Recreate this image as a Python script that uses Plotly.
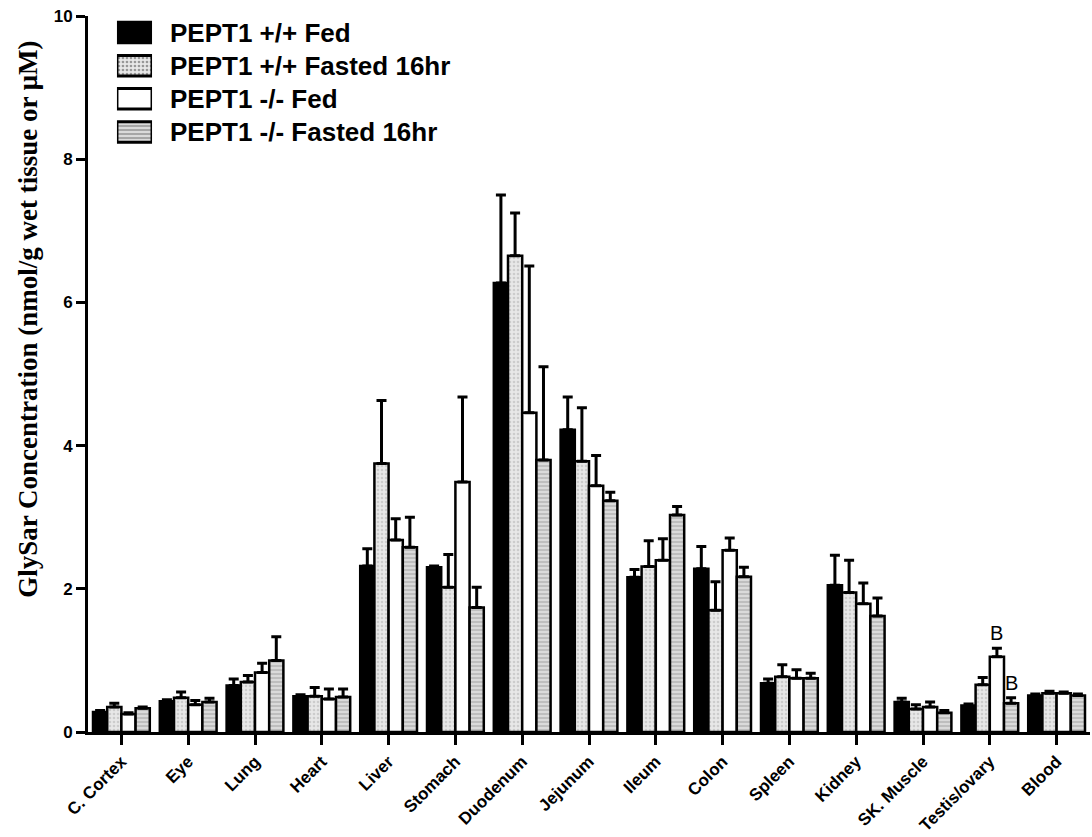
import plotly.graph_objects as go

categories = ["C. Cortex", "Eye", "Lung", "Heart", "Liver", "Stomach", "Duodenum",
              "Jejunum", "Ileum", "Colon", "Spleen", "Kidney", "SK. Muscle",
              "Testis/ovary", "Blood"]

series_names = ["PEPT1 +/+ Fed", "PEPT1 +/+ Fasted 16hr", "PEPT1 -/- Fed", "PEPT1 -/- Fasted 16hr"]

wt_fed = [0.28, 0.43, 0.65, 0.50, 2.32, 2.30, 6.27, 4.22, 2.16, 2.28, 0.68, 2.05, 0.42, 0.37, 0.51]
wt_fed_err = [0.02, 0.02, 0.09, 0.02, 0.24, 0.02, 1.23, 0.46, 0.11, 0.31, 0.06, 0.42, 0.05, 0.02, 0.02]

wt_fast = [0.35, 0.48, 0.70, 0.50, 3.75, 2.02, 6.65, 3.78, 2.31, 1.70, 0.77, 1.95, 0.32, 0.66, 0.54]
wt_fast_err = [0.05, 0.08, 0.09, 0.12, 0.88, 0.46, 0.60, 0.75, 0.36, 0.40, 0.17, 0.45, 0.06, 0.10, 0.03]

ko_fed = [0.25, 0.38, 0.83, 0.46, 2.68, 3.49, 4.46, 3.44, 2.40, 2.54, 0.75, 1.79, 0.35, 1.05, 0.54]
ko_fed_err = [0.02, 0.06, 0.13, 0.14, 0.30, 1.19, 2.05, 0.42, 0.30, 0.17, 0.12, 0.29, 0.07, 0.12, 0.02]

ko_fast = [0.33, 0.42, 1.00, 0.49, 2.58, 1.74, 3.80, 3.23, 3.03, 2.17, 0.75, 1.62, 0.27, 0.40, 0.51]
ko_fast_err = [0.02, 0.05, 0.33, 0.11, 0.42, 0.28, 1.30, 0.12, 0.12, 0.13, 0.07, 0.25, 0.03, 0.08, 0.02]

y_title = "GlySar Concentration (nmol/g wet tissue or μM)"

sig_category = "Testis/ovary"
sig_series = [2, 3]  # indices of series marked "B"
sig_label = "B"

values = [wt_fed, wt_fast, ko_fed, ko_fast]
errors = [wt_fed_err, wt_fast_err, ko_fed_err, ko_fast_err]
fills = ["#000000", "#e8e8e8", "#ffffff", "#dadada"]
patterns = ["", ".", "", "-"]
pat_fg = ["#000000", "#b0b0b0", "#000000", "#8a8a8a"]

SANS = "Liberation Sans, Arial, sans-serif"
SERIF = "Liberation Serif, Times New Roman, serif"

fig = go.Figure()
for name, v, e, fc, ps, pf in zip(series_names, values, errors, fills, patterns, pat_fg):
    fig.add_trace(go.Bar(
        x=categories, y=v, name=name,
        marker=dict(color=fc, line=dict(color="black", width=2.5),
                    pattern=dict(shape=ps, fgcolor=pf, size=4, solidity=0.35, fillmode="overlay")),
        error_y=dict(type="data", symmetric=False, array=e, arrayminus=[0] * len(e),
                     color="black", thickness=3, width=5),
        showlegend=False,
    ))

# legend drawn with an auxiliary bar trace so swatches are large and patterned
fig.add_trace(go.Bar(
    x=[1, 1, 1, 1], y=[0, 1, 2, 3], orientation="h", xaxis="x2", yaxis="y2",
    width=0.62,
    marker=dict(color=fills, line=dict(color="black", width=3),
                pattern=dict(shape=patterns, fgcolor=pat_fg, size=4, solidity=0.35, fillmode="overlay")),
    showlegend=False, hoverinfo="skip",
))
for i, name in enumerate(series_names):
    fig.add_annotation(x=0.0798, xref="paper", y=i, yref="y2", text=name,
                       xanchor="left", yanchor="middle", showarrow=False,
                       font=dict(family=SANS, size=26, color="black", weight="bold"))

# y-axis title placed as rotated annotation (offset upward like the original)
fig.add_annotation(x=-0.06, xref="paper", y=0.577, yref="paper", text=y_title,
                   textangle=-90, showarrow=False, xanchor="center", yanchor="middle",
                   font=dict(family=SERIF, size=27, color="black", weight="bold"))

# "B" significance markers
ngroups = len(values)
bargap = 0.15
bw = (1 - bargap) / ngroups
ci = categories.index(sig_category)
for s in sig_series:
    xc = ci - (1 - bargap) / 2 + bw * (s + 0.5)
    fig.add_annotation(x=xc, xref="x", y=values[s][ci] + errors[s][ci], yref="y",
                       text=sig_label, showarrow=False, yanchor="bottom", yshift=2,
                       font=dict(family=SANS, size=20, color="black"))

fig.update_layout(
    width=1092, height=837,
    margin=dict(l=88, r=2, t=16, b=103),
    paper_bgcolor="white", plot_bgcolor="white",
    barmode="group", bargap=bargap, bargroupgap=0,
    xaxis=dict(range=[-0.5, 14.5], showline=True, linecolor="black", linewidth=3,
               ticks="outside", ticklen=10, tickwidth=3, tickcolor="black",
               tickangle=-45, showgrid=False, zeroline=False,
               tickfont=dict(family=SANS, size=17, color="black", weight="bold")),
    yaxis=dict(range=[0, 10], dtick=2, showline=True, linecolor="black", linewidth=3,
               ticks="outside", ticklen=9, tickwidth=3, tickcolor="black",
               showgrid=False, zeroline=False,
               tickfont=dict(family=SANS, size=17, color="black", weight="bold")),
    xaxis2=dict(domain=[0.0289, 0.0639], range=[0, 1], visible=False),
    yaxis2=dict(domain=[0.815, 1.0], range=[3.5, -0.5], visible=False),
)

fig.write_html("out.html")
